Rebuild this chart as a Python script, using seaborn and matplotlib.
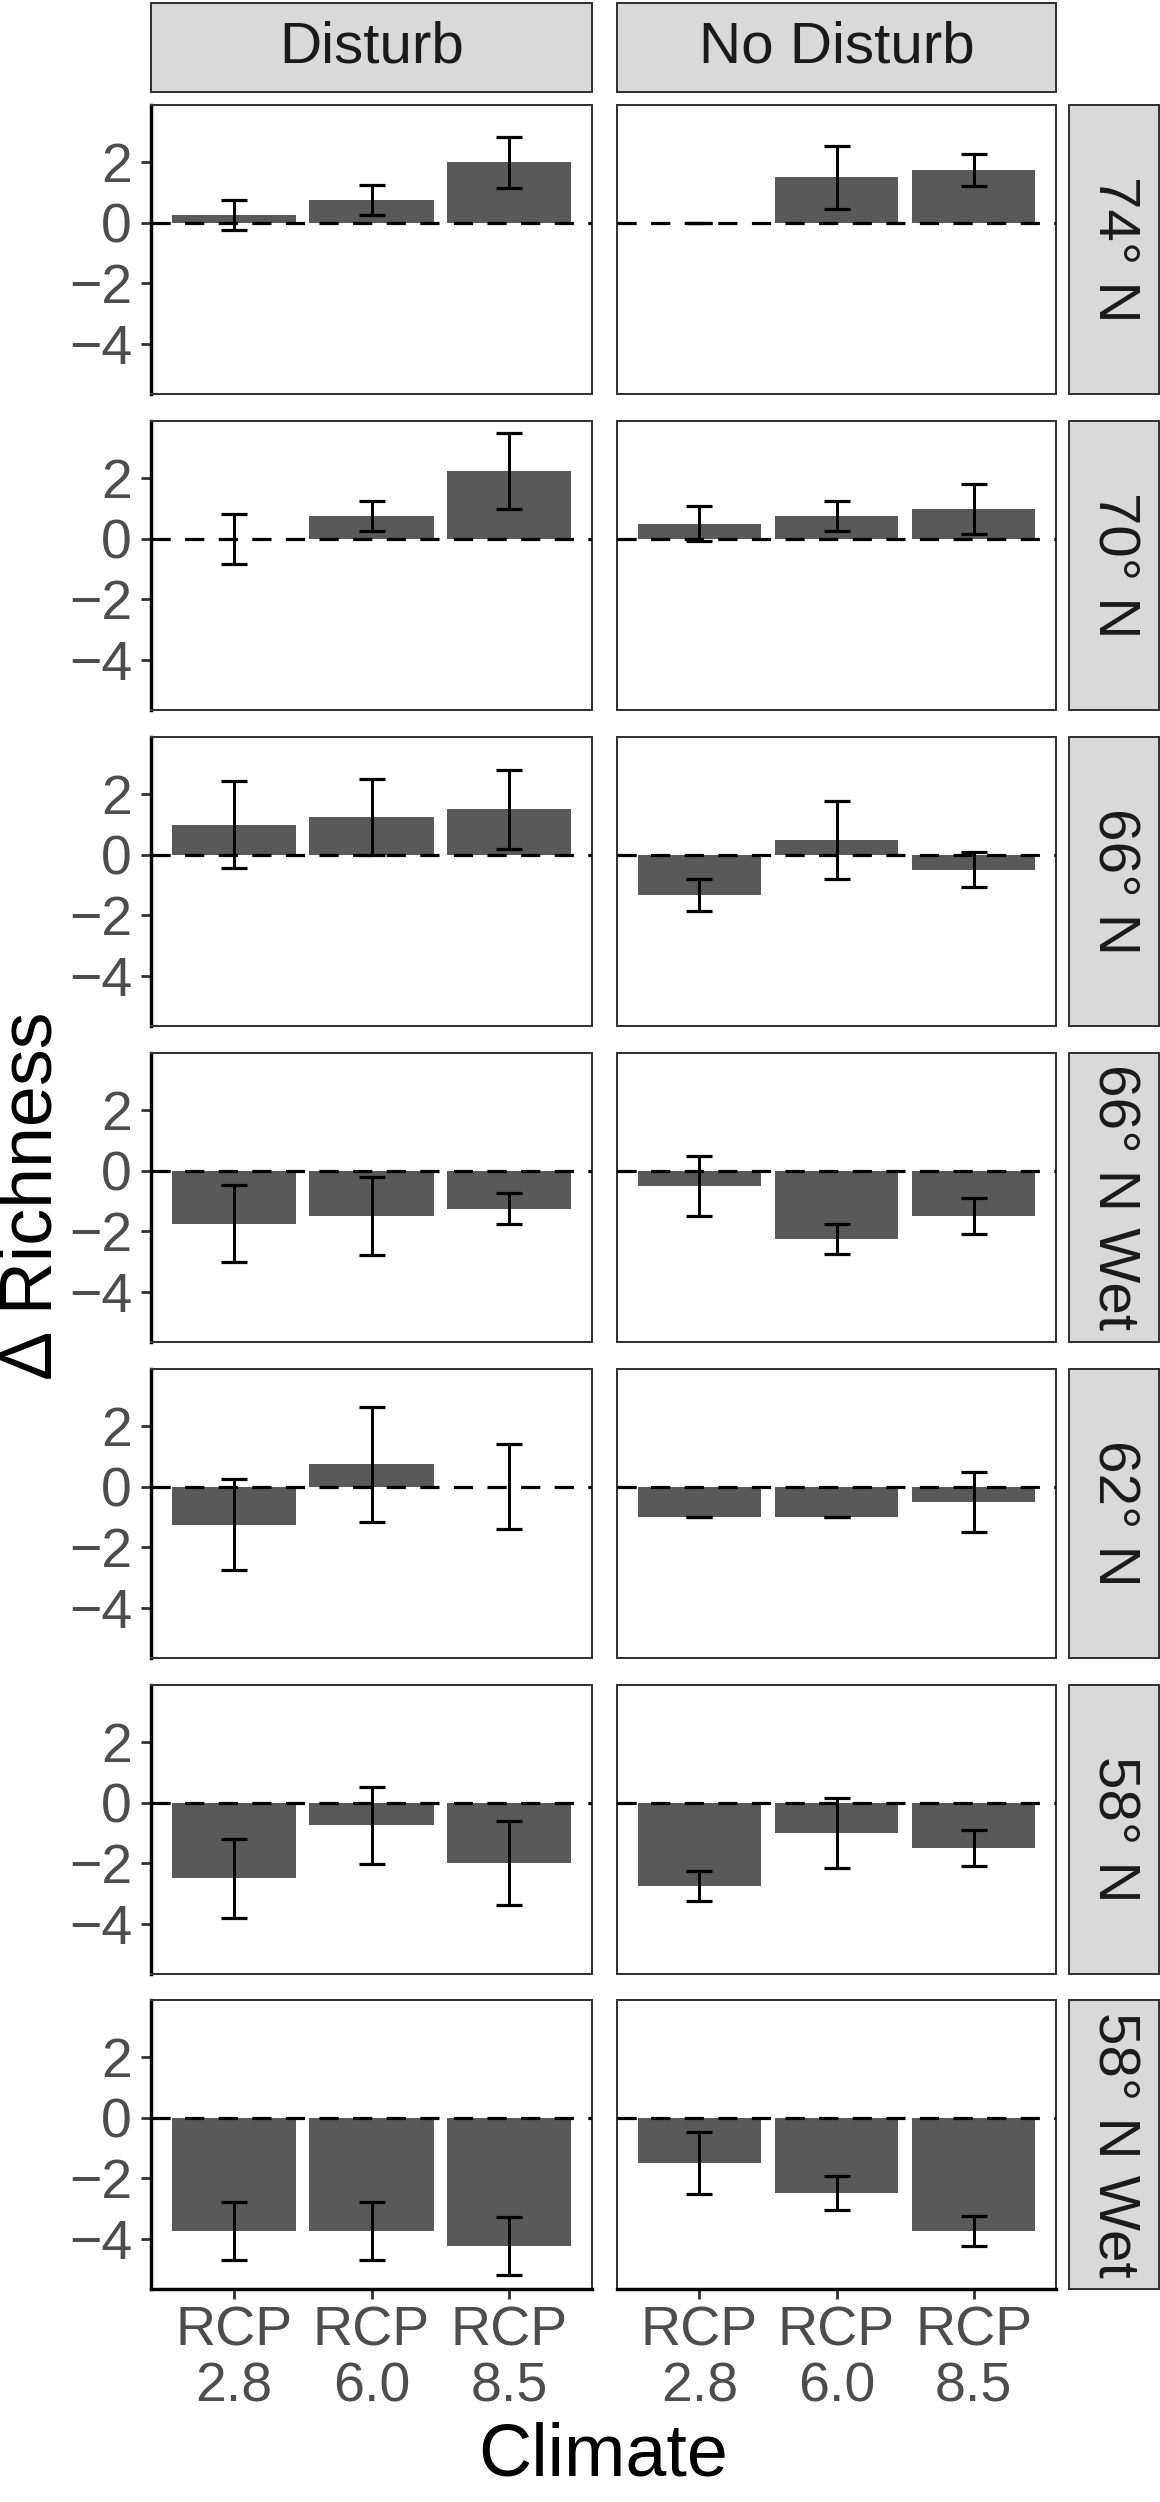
import matplotlib
matplotlib.use("Agg")
import matplotlib.pyplot as plt
import seaborn as sns
import pandas as pd
import numpy as np

# ---------------- data ----------------
regions = ["74° N", "70° N", "66° N", "66° N Wet", "62° N", "58° N", "58° N Wet"]
treatments = ["Disturb", "No Disturb"]
climates = ["RCP\n2.8", "RCP\n6.0", "RCP\n8.5"]
y_ticks = [-4, -2, 0, 2]

disturb_mean = [[0.25, 0.75, 2.0], [0.0, 0.75, 2.25], [1.0, 1.25, 1.5],
                [-1.75, -1.5, -1.25], [-1.25, 0.75, 0.0], [-2.5, -0.75, -2.0],
                [-3.75, -3.75, -4.25]]
disturb_se = [[0.5, 0.5, 0.85], [0.82, 0.5, 1.25], [1.43, 1.25, 1.3],
              [1.27, 1.3, 0.51], [1.5, 1.9, 1.4], [1.3, 1.27, 1.4],
              [0.96, 0.96, 0.96]]
nodist_mean = [[0.0, 1.5, 1.75], [0.5, 0.75, 1.0], [-1.33, 0.5, -0.5],
               [-0.5, -2.25, -1.5], [-1.0, -1.0, -0.5], [-2.75, -1.0, -1.5],
               [-1.5, -2.5, -3.75]]
nodist_se = [[0.0, 1.03, 0.52], [0.58, 0.5, 0.83], [0.52, 1.29, 0.58],
             [1.0, 0.49, 0.6], [0.0, 0.0, 1.0], [0.49, 1.16, 0.59],
             [1.02, 0.56, 0.49]]

rows = []
for r, reg in enumerate(regions):
    for t, (means, ses) in zip(treatments, [(disturb_mean, disturb_se), (nodist_mean, nodist_se)]):
        for c, clim in enumerate(climates):
            rows.append(dict(region=reg, treatment=t, climate=clim,
                             mean=means[r][c], se=ses[r][c]))
df = pd.DataFrame(rows)

# ---------------- style ----------------
sns.set_theme(style="white")
plt.rcParams["font.family"] = ["Liberation Sans", "DejaVu Sans"]

W, H = 1160, 2502
PX = 0.72  # points per pixel at dpi 100
fig = plt.figure(figsize=(W / 100, H / 100), dpi=100)

def frac(x0, y0, x1, y1):
    return [x0 / W, 1 - y1 / H, (x1 - x0) / W, (y1 - y0) / H]

col_x = [(151, 592), (617, 1056)]
row_top = [105, 421, 737, 1053, 1369, 1685, 2000]
ph = 289
bar_col = "#595959"
border_col = "#333333"
strip_fill = "#D9D9D9"
tick_col = "#4D4D4D"

for r, reg in enumerate(regions):
    for c, t in enumerate(treatments):
        x0, x1 = col_x[c]
        y0 = row_top[r]
        ax = fig.add_axes(frac(x0, y0, x1, y0 + ph))
        sub = df[(df.region == reg) & (df.treatment == t)]
        sns.barplot(data=sub, x="climate", y="mean", order=climates,
                    color=bar_col, saturation=1, width=0.9, errorbar=None,
                    ax=ax, linewidth=0, zorder=2)
        ax.errorbar(np.arange(3), sub["mean"].values, yerr=sub["se"].values,
                    fmt="none", ecolor="black", elinewidth=3.0 * PX,
                    capsize=13 * PX, capthick=3.2 * PX, zorder=3)
        ax.axhline(0, color="black", lw=3.2 * PX, ls=(0, (6, 4.5)), zorder=4)
        ax.set_xlim(-0.6, 2.6)
        ax.set_ylim(-5.67, 3.9)
        ax.set_yticks(y_ticks)
        ax.set_xlabel("")
        ax.set_ylabel("")
        for s in ax.spines.values():
            s.set_color(border_col)
            s.set_linewidth(2.0 * PX)
        ax.tick_params(axis="both", colors=border_col, labelcolor=tick_col,
                       labelsize=40, length=10 * PX, width=2.8 * PX,
                       direction="out")
        ax.tick_params(axis="y", pad=9 * PX)
        ax.tick_params(axis="x", pad=6 * PX)
        if c == 0:
            ax.spines["left"].set_color("black")
            ax.spines["left"].set_linewidth(3.4 * PX)
            ax.yaxis.set_ticks_position("left")
        else:
            ax.tick_params(axis="y", left=False, labelleft=False)
        if r == len(regions) - 1:
            ax.spines["bottom"].set_color("black")
            ax.spines["bottom"].set_linewidth(3.4 * PX)
            ax.set_xticks(range(3))
            ax.set_xticklabels(climates, linespacing=1.12)
            ax.xaxis.set_ticks_position("bottom")
        else:
            ax.tick_params(axis="x", bottom=False, labelbottom=False)

        # top strips
        if r == 0:
            sax = fig.add_axes(frac(x0, 3, x1, 92))
            sax.set_facecolor(strip_fill)
            sax.set_xticks([]); sax.set_yticks([])
            for s in sax.spines.values():
                s.set_color(border_col); s.set_linewidth(2.0 * PX)
            sax.text(0.5, 0.5, t, ha="center", va="center", fontsize=42,
                     color="#1A1A1A", transform=sax.transAxes)
    # right strips
    y0 = row_top[r]
    rax = fig.add_axes(frac(1069, y0, 1159, y0 + ph))
    rax.set_facecolor(strip_fill)
    rax.set_xticks([]); rax.set_yticks([])
    for s in rax.spines.values():
        s.set_color(border_col); s.set_linewidth(2.0 * PX)
    rax.text(0.5, 0.5, reg, ha="center", va="center", fontsize=42,
             rotation=-90, color="#1A1A1A", transform=rax.transAxes)

fig.text(32 / W, 1 - 1196 / H, "Δ Richness", rotation=90, ha="center",
         va="center", fontsize=53, color="black")
fig.text(603 / W, 1 - 2456 / H, "Climate", ha="center", va="center",
         fontsize=53, color="black")

fig.savefig("out.png", dpi=100)
